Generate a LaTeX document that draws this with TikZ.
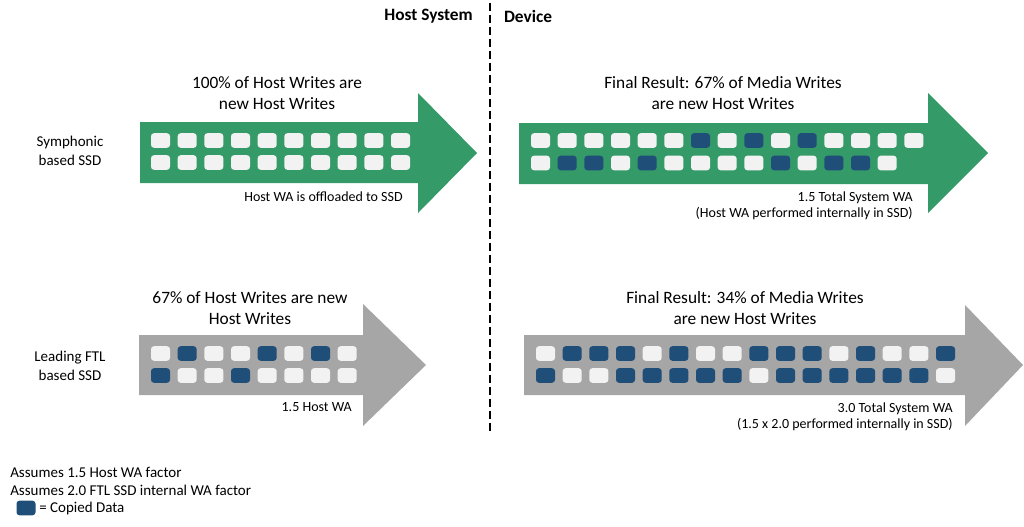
\documentclass[tikz,border=0pt]{standalone}
\usepackage{fontspec}
\setmainfont{Carlito}
\usepackage{xcolor}
\usetikzlibrary{calc}

\definecolor{symgreen}{RGB}{52,155,104}
\definecolor{ftlgray}{RGB}{166,166,166}
\definecolor{cellw}{RGB}{242,242,242}
\definecolor{cellb}{RGB}{31,78,121}

\begin{document}
\begin{tikzpicture}[x=0.75pt, y=-0.75pt,
  cell/.style={rectangle, rounded corners=2.2pt, inner sep=0pt,
    minimum width=14.25pt, minimum height=10.9pt},
  title/.style={font=\fontsize{13}{15.8}\selectfont, align=center, inner sep=0pt},
  note/.style={font=\fontsize{10.5}{11.8}\selectfont, align=right, anchor=east, inner sep=0pt},
  side/.style={font=\fontsize{11.25}{14.2}\selectfont, align=center, inner sep=0pt},
  head/.style={font=\fontsize{13}{15.8}\selectfont\bfseries, inner sep=0pt}]
  \useasboundingbox (0,0) rectangle (1024,526);

  % headers and divider
  \node[head, anchor=east] (host) at (473,16) {Host System};
  \node[head] (dev) at (528,16) {Device};
  \coordinate (divtop) at (490,3);
  \coordinate (divbot) at (490,432);
  \draw[line width=2.2pt, dash pattern=on 6pt off 3pt] (divtop) -- (divbot);

  % arrows
  \fill[symgreen] (140,122) -- (418,122) -- (418,93) -- (477,153) -- (418,213)
    -- (418,183) -- (140,183) -- cycle;
  \fill[symgreen] (519,123) -- (928,123) -- (928,93) -- (988,153) -- (928,213)
    -- (928,184) -- (519,184) -- cycle;
  \fill[ftlgray] (139,335) -- (363,335) -- (363,304) -- (426,365) -- (363,426)
    -- (363,395) -- (139,395) -- cycle;
  \fill[ftlgray] (524,335) -- (965,335) -- (965,305) -- (1023,365) -- (965,426)
    -- (965,395) -- (524,395) -- cycle;

  % Symphonic host side
  \foreach \c [count=\i from 0] in {w,w,w,w,w,w,w,w,w,w}
    \node[cell, fill=cell\c] (sh1-\i) at ({160.5+26.67*\i},140.5) {};
  \foreach \c [count=\i from 0] in {w,w,w,w,w,w,w,w,w,w}
    \node[cell, fill=cell\c] (sh2-\i) at ({160.5+26.67*\i},162.5) {};

  % Symphonic device side
  \foreach \c [count=\i from 0] in {w,w,w,w,w,w,b,w,b,w,b,w,w,w,w}
    \node[cell, fill=cell\c] (sd1-\i) at ({540.5+26.67*\i},140.5) {};
  \foreach \c [count=\i from 0] in {w,b,b,w,b,w,w,w,w,b,w,b,b,w}
    \node[cell, fill=cell\c] (sd2-\i) at ({540.5+26.67*\i},163) {};

  % FTL host side
  \foreach \c [count=\i from 0] in {w,b,w,w,b,w,b,w}
    \node[cell, fill=cell\c] (fh1-\i) at ({160.5+26.67*\i},353.5) {};
  \foreach \c [count=\i from 0] in {b,w,w,b,w,w,w,w}
    \node[cell, fill=cell\c] (fh2-\i) at ({160.5+26.67*\i},375.5) {};

  % FTL device side
  \foreach \c [count=\i from 0] in {w,b,b,b,w,b,w,w,b,b,b,w,b,w,w,b}
    \node[cell, fill=cell\c] (fd1-\i) at ({545.5+26.67*\i},353.5) {};
  \foreach \c [count=\i from 0] in {b,w,w,b,b,b,b,b,w,b,b,b,b,b,b,w}
    \node[cell, fill=cell\c] (fd2-\i) at ({545.5+26.67*\i},375.5) {};

  % titles
  \node[title] (shtitle) at (277,93) {100\% of Host Writes are\\new Host Writes};
  \node[title] (sdtitle) at (723,93) {Final Result: 67\% of Media Writes\\are new Host Writes};
  \node[title] (fhtitle) at (250,308) {67\% of Host Writes are new\\Host Writes};
  \node[title] (fdtitle) at (745,308) {Final Result: 34\% of Media Writes\\are new Host Writes};

  % notes under the arrows
  \node[note] (shnote) at (403,197) {Host WA is offloaded to SSD};
  \node[note] (sdnote) at (913,206) {1.5 Total System WA\\(Host WA performed internally in SSD)};
  \node[note] (fhnote) at (352,407) {1.5 Host WA};
  \node[note] (fdnote) at (953,417) {3.0 Total System WA\\(1.5 x 2.0 performed internally in SSD)};

  % row labels
  \node[side] (symlbl) at (70,151) {Symphonic\\based SSD};
  \node[side] (ftllbl) at (70,366) {Leading FTL\\based SSD};

  % legend
  \node[side, anchor=west] (asm1) at (10,472) {Assumes 1.5 Host WA factor};
  \node[side, anchor=west] (asm2) at (10,490) {Assumes 2.0 FTL SSD internal WA factor};
  \node[cell, fill=cellb] (key) at (26,508) {};
  \node[side, anchor=west] (keylbl) at (39,508) {= Copied Data};
\end{tikzpicture}
\end{document}
